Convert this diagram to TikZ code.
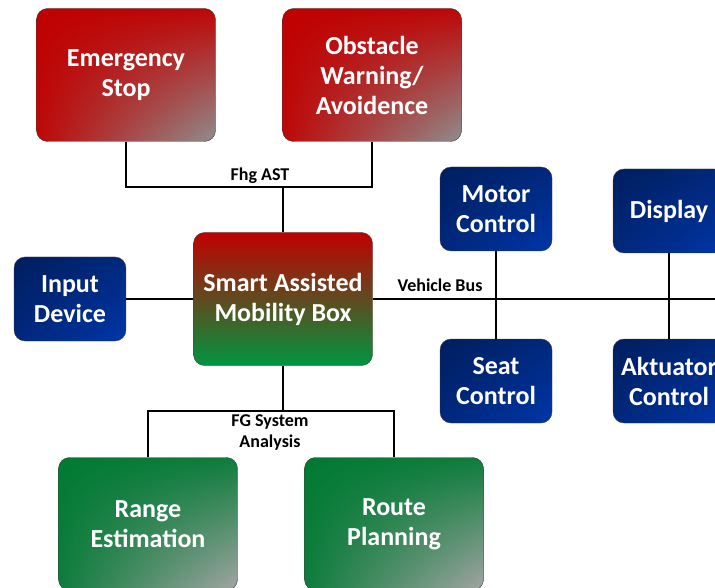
\documentclass[tikz,border=0pt]{standalone}
\usepackage{fontspec}
\setmainfont{Carlito}
\usepackage{xcolor}
\usetikzlibrary{shadings}
\definecolor{samred}{HTML}{C00000}
\definecolor{samgreen}{HTML}{00953F}
\definecolor{samgray}{HTML}{8E8E8E}
\definecolor{samnavy}{HTML}{001E5E}
\definecolor{samblue}{HTML}{0036A8}
\definecolor{samdkgreen}{HTML}{007A33}
\tikzset{
    sam-box/.style = {draw=black!75, thin, rectangle, rounded corners=11pt, text=white, align=center, font=\fontsize{26}{30}\selectfont\bfseries},
    big-box/.style = {sam-box, minimum width=179pt, minimum height=133pt},
    small-box/.style = {sam-box, minimum width=112pt, minimum height=84pt},
    red-box/.style = {big-box, upper left=samred, upper right=samred!95!samgray, lower left=samred!95!samgray, lower right=samgray},
    green-box/.style = {big-box, upper left=samdkgreen, upper right=samdkgreen!90!samgray, lower left=samdkgreen!90!samgray, lower right=samgray!80},
    blue-box/.style = {small-box, upper left=samnavy, upper right=samnavy!60!samblue, lower left=samnavy!60!samblue, lower right=samblue},
    main-box/.style = {big-box, top color=samred, bottom color=samgreen},
    bus/.style = {draw=black, line width=2.8pt},
    bus-label/.style = {font=\fontsize{18}{21}\selectfont\bfseries, align=center, inner sep=1pt},
}

\begin{document}
\begin{tikzpicture}[x=1pt, y=-1pt]
\useasboundingbox (0,0) rectangle (715,588);
\clip (0,0) rectangle (715,588);

% boxes
\node [red-box] (stop) at (126,75) {Emergency\\Stop};
\node [red-box] (obstacle) at (372,75) {Obstacle\\Warning/\\Avoidence};
\node [main-box] (samb) at (283,299) {Smart Assisted\\Mobility Box};
\node [blue-box] (input) at (70,299) {Input\\Device};
\node [blue-box] (motor) at (496,209) {Motor\\Control};
\node [blue-box] (seat) at (496,381) {Seat\\Control};
\node [blue-box] (display) at (669,211) {Display};
\node [blue-box] (aktuator) at (669,381) {Aktuator\\Control};
\node [green-box] (range) at (148,524) {Range\\Estimation};
\node [green-box] (route) at (394,524) {Route\\Planning};

% bus junctions
\coordinate (fhg-join) at (283,187);
\coordinate (fg-join) at (283,411);
\coordinate (bus-end) at (716,299);

% connectors
\draw [bus] (stop.south) |- (fhg-join) -| (obstacle.south);
\draw [bus] (fhg-join) -- (samb.north);
\draw [bus] (input.east) -- (samb.west);
\draw [bus] (samb.east) -- (bus-end);
\draw [bus] (motor.south) -- (seat.north);
\draw [bus] (display.south) -- (aktuator.north);
\draw [bus] (samb.south) -- (fg-join);
\draw [bus] (range.north) |- (fg-join) -| (route.north);

% bus labels
\node [bus-label] (fhg-label) at (260,176) {Fhg AST};
\node [bus-label] (vehicle-label) at (440,285) {Vehicle Bus};
\node [bus-label] (fg-label) at (270,433) {FG System\\Analysis};
\end{tikzpicture}
\end{document}
